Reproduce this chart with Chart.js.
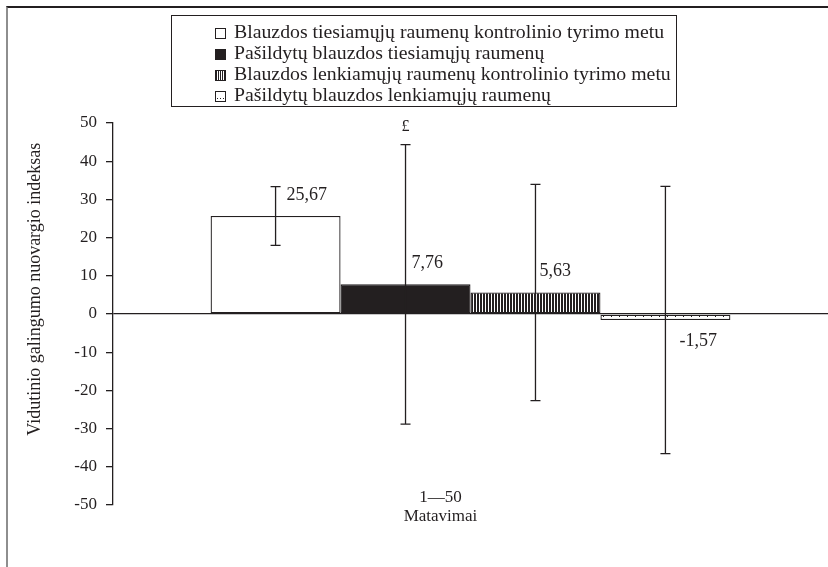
<!DOCTYPE html>
<html>
<head>
<meta charset="utf-8">
<script src="https://cdn.jsdelivr.net/npm/chart.js@4.4.1/dist/chart.umd.min.js"></script>
<style>
  html, body { margin: 0; padding: 0; background: #fff; }
  #wrap { position: relative; width: 828px; height: 567px; overflow: hidden; }
  #frame { position: absolute; left: 6px; top: 6px; right: -4px; bottom: -4px;
           border-left: 2px solid #8e8e8e; border-top: 2px solid #231f20; }
  canvas { position: absolute; left: 0; top: 0; }
</style>
</head>
<body>
<div id="wrap">
  <div id="frame"></div>
  <canvas id="chart" width="828" height="567"></canvas>
</div>
<script>
const categories = ['1—50'];
const xTitle = 'Matavimai';
const yTitle = 'Vidutinio galingumo nuovargio indeksas';
const seriesNames = [
  'Blauzdos tiesiamųjų raumenų kontrolinio tyrimo metu',
  'Pašildytų blauzdos tiesiamųjų raumenų',
  'Blauzdos lenkiamųjų raumenų kontrolinio tyrimo metu',
  'Pašildytų blauzdos lenkiamųjų raumenų'
];
const meanValues = [25.67, 7.76, 5.63, -1.57];
const errorValues = [7.7, 36.6, 28.3, 35.0];
const valueLabels = ['25,67', '7,76', '5,63', '-1,57'];
const marks = ['', '£', '', ''];
const yMin = -50;
const yMax = 50;
const yStep = 10;

const ink = '#231f20';
const serif = '"Liberation Serif", "Times New Roman", serif';

function stripePattern() {
  const c = document.createElement('canvas');
  c.width = 3; c.height = 3;
  const g = c.getContext('2d');
  g.fillStyle = '#fff';
  g.fillRect(0, 0, 3, 3);
  g.fillStyle = ink;
  g.fillRect(0, 0, 2, 3);
  return g.createPattern(c, 'repeat');
}

function dotPattern() {
  const c = document.createElement('canvas');
  c.width = 8; c.height = 400;
  const g = c.getContext('2d');
  g.fillStyle = '#fff';
  g.fillRect(0, 0, 8, 400);
  g.fillStyle = ink;
  g.fillRect(3, 0, 1, 1);
  return g.createPattern(c, 'repeat');
}

const dots = dotPattern();
const fills = ['#ffffff', ink, stripePattern(), dots];

const extras = {
  id: 'extras',
  beforeDatasetsDraw(chart) {
    const y0 = chart.scales.y.getPixelForValue(0);
    dots.setTransform(new DOMMatrix().translate(0, Math.round(y0) + 2));
  },
  afterDatasetsDraw(chart, args, opts) {
    const ctx = chart.ctx;
    const y = chart.scales.y;
    ctx.save();
    ctx.strokeStyle = ink;
    ctx.fillStyle = ink;
    ctx.lineWidth = 1.3;
    chart.data.datasets.forEach((ds, i) => {
      const bar = chart.getDatasetMeta(i).data[0];
      const x = bar.x;
      const hi = y.getPixelForValue(meanValues[i] + errorValues[i]);
      const lo = y.getPixelForValue(meanValues[i] - errorValues[i]);
      ctx.beginPath();
      ctx.moveTo(x, hi); ctx.lineTo(x, lo);
      ctx.moveTo(x - 5, hi); ctx.lineTo(x + 5, hi);
      ctx.moveTo(x - 5, lo); ctx.lineTo(x + 5, lo);
      ctx.stroke();

      ctx.font = '18px ' + serif;
      ctx.textAlign = 'left';
      ctx.textBaseline = 'middle';
      const end = y.getPixelForValue(meanValues[i]);
      const ly = meanValues[i] >= 0 ? end - 21 : end + 21;
      ctx.fillText(valueLabels[i], x + opts.labelDx[i], ly);

      if (marks[i]) {
        ctx.font = '16px ' + serif;
        ctx.textAlign = 'center';
        ctx.fillText(marks[i], x, hi - 18);
      }
    });
    ctx.restore();
  },
  afterDraw(chart, args, opts) {
    const ctx = chart.ctx;
    const b = opts.box;
    ctx.save();
    ctx.strokeStyle = ink;
    ctx.lineWidth = 1;
    ctx.strokeRect(b.x + 0.5, b.y + 0.5, b.w, b.h);
    ctx.font = '19.8px ' + serif;
    ctx.textBaseline = 'middle';
    ctx.textAlign = 'left';
    chart.data.datasets.forEach((ds, i) => {
      const cy = b.y + b.firstRow + i * b.rowGap;
      const mx = b.x + b.markerX;
      const my = Math.round(cy - 5);
      if (i === 3) {
        ctx.fillStyle = '#fff';
        ctx.fillRect(mx, my, 11, 11);
        ctx.fillStyle = ink;
        for (let k = 2; k < 10; k += 3) ctx.fillRect(mx + k, my + 7, 1, 1);
      } else if (i === 2) {
        ctx.fillStyle = '#fff';
        ctx.fillRect(mx, my, 11, 11);
        ctx.fillStyle = ink;
        for (let k = 1; k < 11; k += 2) ctx.fillRect(mx + k, my, 1, 11);
      } else {
        ctx.fillStyle = ds.backgroundColor;
        ctx.fillRect(mx, my, 11, 11);
      }
      ctx.strokeStyle = ink;
      ctx.strokeRect(mx + 0.5, my + 0.5, 10, 10);
      ctx.fillStyle = ink;
      ctx.fillText(ds.label, mx + 19, cy);
    });
    ctx.restore();
  }
};

const datasets = seriesNames.map((name, i) => ({
  label: name,
  data: [meanValues[i]],
  backgroundColor: fills[i],
  borderColor: ink,
  borderWidth: 1.3,
  borderSkipped: false
}));

new Chart(document.getElementById('chart'), {
  type: 'bar',
  data: { labels: categories, datasets },
  options: {
    responsive: false,
    animation: false,
    events: [],
    layout: { padding: { top: 123, right: 0, bottom: 0, left: 0 } },
    datasets: { bar: { categoryPercentage: 0.727, barPercentage: 1 } },
    plugins: {
      legend: { display: false },
      tooltip: { enabled: false },
      extras: {
        labelDx: [11, 6, 4, 14],
        box: { x: 171, y: 15, w: 505, h: 91, markerX: 44, firstRow: 18, rowGap: 21 }
      }
    },
    scales: {
      x: {
        grid: { display: false, drawTicks: false },
        border: { display: false },
        ticks: {
          color: ink,
          font: { family: serif, size: 17, lineHeight: 1.1 },
          mirror: true,
          padding: -2,
          labelOffset: -30,
          maxRotation: 0,
          callback: (v, i) => [categories[i], xTitle]
        },
        afterFit: scale => { scale.height = 62; }
      },
      y: {
        min: yMin,
        max: yMax,
        ticks: {
          stepSize: yStep,
          color: ink,
          padding: 9,
          font: { family: serif, size: 17 }
        },
        grid: {
          color: c => (c.tick && c.tick.value === 0 ? ink : 'rgba(0,0,0,0)'),
          tickColor: ink,
          tickLength: 7,
          lineWidth: 1.3
        },
        border: { display: true, color: ink, width: 1.3 },
        title: {
          display: true,
          text: '           ' + yTitle,
          color: ink,
          font: { family: serif, size: 18 },
          padding: { top: 24, bottom: 0 }
        },
        afterFit: scale => { scale.width = 113; }
      }
    }
  },
  plugins: [extras]
});
</script>
</body>
</html>
